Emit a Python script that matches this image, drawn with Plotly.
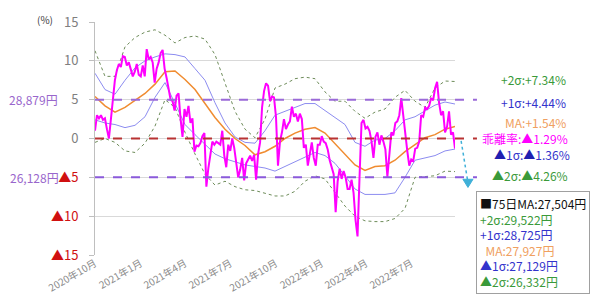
import pandas as pd
import plotly.graph_objects as go

# ---- data ----
dev_start, dev_end = "2020-10-01", "2022-09-27"
deviation = [
    1.0, 3.0, 2.6, 3.0, 2.4, 2.6, 1.2, 0.0, 2.5, 5.5,
    7.5, 8.8, 9.6, 9.2, 10.6, 10.5, 9.4, 9.8, 8.8, 8.0,
    8.6, 9.6, 8.2, 8.0, 9.4, 8.0, 11.5, 10.2, 10.5, 9.8,
    7.2, 9.0, 9.8, 11.0, 11.4, 9.0, 7.8, 6.5, 5.0, 4.8,
    3.6, 5.5, 5.8, 2.6, 0.2, 3.8, 2.8, 4.2, 2.0, 2.6,
    -1.7, -0.9, -1.0, -0.6, 0.3, 0.7, -6.2, -3.8, -2.2, -0.4,
    -0.8, -0.4, -0.6, -0.8, 1.0, -2.2, -3.7, -0.8, -1.6, 0.0,
    -1.2, -2.8, -5.0, -4.0, -2.5, -5.4, -3.2, -2.7, -2.2, -2.9,
    -2.1, -5.3, -2.0, -0.5, 4.0, 6.1, 7.1, 6.8, 4.8, 5.4,
    5.3, 2.8, -3.5, -0.4, 0.8, 2.5, 1.2, 1.8, 2.2, 4.1,
    2.8, 3.2, 2.2, 3.2, 2.5, -1.2, -0.8, -3.5, -2.0, -0.5,
    -2.5, -3.5, -0.8, -0.8, 0.3, -0.4, -0.6, -1.4, -2.8, -3.6,
    -4.6, -9.5, -5.5, -3.9, -5.2, -4.2, -5.0, -6.5, -6.5, -5.3,
    -7.0, -10.5, -12.6, -5.0, 2.0, 2.4, 1.3, 1.5, 1.0, -0.3,
    -2.5, 0.2, 0.8, -0.8, 0.4, -0.4, -1.4, -4.9, -1.5, 0.8,
    0.4, 2.0, 2.2, 3.0, 5.2, 2.8, 0.0, -1.6, -3.5, -2.7,
    -2.9, -1.3, -1.2, -0.4, 3.0, 2.8, 4.0, 3.8, 4.2, 5.2,
    4.9, 6.5, 7.3, 4.6, 3.0, 3.5, 0.8, 1.5, 3.5, 0.5,
    0.8, -1.29,
]
ma = [5.4, 4.2, 3.4, 4.0, 4.9, 5.8, 7.0, 8.6, 8.7, 7.6, 6.3, 4.5, 2.7, 1.2, 0.0, -0.9,
      -2.1, -1.7, -1.0, 0.0, 0.7, 1.2, 1.4, 0.7, -0.7, -2.0, -3.4, -4.1, -3.6, -3.5,
      -2.8, -1.7, -0.8, 0.1, 0.5, 1.2, 1.54]
plus1 = [8.4, 6.3, 5.7, 7.5, 9.1, 10.0, 10.5, 10.9, 10.8, 10.5, 9.0, 7.5, 4.6, 2.0, 0.2,
         -0.5, -0.6, 1.0, 3.0, 3.5, 4.0, 4.5, 4.5, 3.6, 2.8, 1.8, -0.5, -1.0, -0.2, 0.0,
         1.0, 2.4, 2.8, 3.5, 4.3, 4.7, 4.44]
minus1 = [2.4, 2.0, 1.8, 1.4, 1.7, 2.8, 5.3, 7.2, 4.5, 1.8, 0.5, -0.8, -2.0, -2.6, -3.0,
          -3.4, -3.6, -3.8, -4.2, -3.6, -3.0, -2.4, -1.8, -2.2, -3.2, -4.8, -6.5, -7.2,
          -7.2, -7.2, -7.0, -5.0, -2.8, -2.5, -2.2, -1.6, -1.36]
plus2 = [11.3, 8.0, 8.0, 11.8, 13.0, 13.7, 14.0, 13.3, 12.3, 13.0, 13.2, 12.8, 10.8, 7.0,
         3.5, 1.2, 0.1, 2.5, 6.5, 7.0, 7.7, 7.9, 7.7, 6.0, 4.8, 4.8, 3.5, 2.6, 3.4, 3.8,
         5.3, 6.2, 4.8, 4.0, 6.5, 7.4, 7.34]
minus2 = [-0.5, 0.0, -0.5, -1.6, -1.8, -0.6, 1.6, 5.0, 4.0, 0.8, -2.0, -4.6, -6.0, -5.5,
          -6.2, -6.6, -6.7, -7.0, -7.4, -7.4, -6.8, -5.5, -4.8, -5.2, -7.0, -8.7, -10.0,
          -10.6, -10.7, -10.7, -10.3, -9.0, -5.0, -4.9, -4.8, -4.2, -4.26]

xtick_vals = ["2020-10-01", "2021-01-01", "2021-04-01", "2021-07-01",
              "2021-10-01", "2022-01-01", "2022-04-01", "2022-07-01"]
xtick_text = ["2020年10月", "2021年1月", "2021年4月", "2021年7月",
              "2021年10月", "2022年1月", "2022年4月", "2022年7月"]
ytick_vals = [-15, -10, -5, 0, 5, 10, 15]
ytick_text = ["▲15", "▲10", "▲5", "0", "5", "10", "15"]

right_labels = ["+2σ:+7.34%", "+1σ:+4.44%", "MA:+1.54%", "乖離率:▲1.29%", "▲1σ:▲1.36%", "▲2σ:▲4.26%"]
box_title = "■75日MA:27,504円"
box_labels = ["+2σ:29,522円", "+1σ:28,725円", "MA:27,927円", "▲1σ:27,129円", "▲2σ:26,332円"]
price_at_p5 = "28,879円"
price_at_m5 = "26,128円"

# ---- figure ----
dev_dates = pd.date_range(dev_start, dev_end, periods=len(deviation))
band_dates = pd.date_range(dev_start, dev_end, periods=len(ma))

GREEN = "#3A9A3A"
BLUE = "#3333CC"
ORANGE = "#F0A060"
MAG = "#FF00FF"
PURPLE = "#9966CC"
RED = "#D01010"
FONT = "Noto Sans CJK JP"

fig = go.Figure()
fig.add_trace(go.Scatter(x=band_dates, y=plus2, mode="lines",
                         line=dict(color="#6E8C5A", width=1, dash="dot")))
fig.add_trace(go.Scatter(x=band_dates, y=minus2, mode="lines",
                         line=dict(color="#6E8C5A", width=1, dash="dot")))
fig.add_trace(go.Scatter(x=band_dates, y=plus1, mode="lines",
                         line=dict(color="#8C8CF0", width=1)))
fig.add_trace(go.Scatter(x=band_dates, y=minus1, mode="lines",
                         line=dict(color="#8C8CF0", width=1)))
fig.add_trace(go.Scatter(x=band_dates, y=ma, mode="lines",
                         line=dict(color="#F08C30", width=1.5)))
fig.add_trace(go.Scatter(x=dev_dates, y=deviation, mode="lines",
                         line=dict(color=MAG, width=2)))

# dashed reference lines extending beyond the plot area
for yv, col in [(5, "#9A6AD8"), (-5, "#8A5ADA"), (0, "#B83232")]:
    fig.add_shape(type="line", xref="paper", yref="y", x0=0, x1=1.061, y0=yv, y1=yv,
                  line=dict(color=col, width=2, dash="dash"))

# cyan dotted arrow
fig.add_shape(type="line", xref="paper", yref="paper", x0=1.017, y0=0.49, x1=1.036, y1=0.31,
              line=dict(color="#3FB0D8", width=1.5, dash="dot"))
fig.add_shape(type="path", xref="paper", yref="paper",
              path="M 1.022 0.325 L 1.050 0.325 L 1.036 0.29 Z",
              fillcolor="#3FB0D8", line=dict(color="#3FB0D8", width=1))

# right-hand labels
right_specs = [(7.65, GREEN, 1.314), (4.7, BLUE, 1.314), (2.1, ORANGE, 1.314),
               (0.0, MAG, 1.319), (-2.1, BLUE, 1.325), (-4.7, GREEN, 1.319)]
for txt, (yv, col, xp) in zip(right_labels, right_specs):
    if txt.startswith("▲1σ"):
        txt = "<span style='color:#2020B0'>▲</span>1σ:<span style='color:#2020B0'>▲</span>1.36%"
    fig.add_annotation(xref="paper", yref="y", x=xp, y=yv, text=txt, showarrow=False,
                       xanchor="right", yanchor="middle", font=dict(size=12, color=col, family=FONT))

# info box: one bordered multi-line annotation
box_colors = [GREEN, BLUE, ORANGE, BLUE, GREEN]
lines = [f"<span style='color:#111111'>{box_title}</span>"]
for txt, col in zip(box_labels, box_colors):
    pad = "\u00a0\u00a0" if txt.startswith("MA") else ""
    lines.append(f"{pad}<span style='color:{col}'>{txt}</span>")
fig.add_annotation(xref="paper", yref="paper", x=(476 - 95) / 360, y=(260 - 193) / 243,
                   text="<br>".join(lines), showarrow=False, align="left",
                   xanchor="left", yanchor="top",
                   bordercolor="#A0A0A0", borderwidth=1, borderpad=3, bgcolor="white",
                   font=dict(size=12, color="#111111", family=FONT))

# left price labels
fig.add_annotation(xref="paper", yref="y", x=-0.097, y=5, text=price_at_p5, showarrow=False,
                   xanchor="right", yanchor="middle", font=dict(size=12, color=PURPLE, family=FONT))
fig.add_annotation(xref="paper", yref="y", x=-0.094, y=-5, text=price_at_m5, showarrow=False,
                   xanchor="right", yanchor="middle", font=dict(size=12, color=PURPLE, family=FONT))
fig.add_annotation(xref="paper", yref="paper", x=-0.14, y=1.01, text="(%)", showarrow=False,
                   xanchor="center", yanchor="middle", font=dict(size=10, color="#404040", family=FONT))

ytext_styled = [f"<span style='color:{RED}'>{t}</span>" if t.startswith("▲") else t
                for t in ytick_text]

fig.update_layout(
    width=600, height=307,
    margin=dict(l=95, r=145, t=17, b=47),
    paper_bgcolor="white", plot_bgcolor="white",
    showlegend=False,
    font=dict(family=FONT, color="#7F7F7F"),
    xaxis=dict(type="date", range=["2020-10-01", "2022-09-27"],
               tickvals=xtick_vals, ticktext=xtick_text, tickangle=-30,
               showgrid=False, showline=False, zeroline=False, ticks="",
               tickfont=dict(size=10, color="#8C8C8C", family=FONT)),
    yaxis=dict(range=[-15, 15], tickvals=ytick_vals, ticktext=ytext_styled,
               showgrid=True, gridcolor="#D9D9D9", gridwidth=1, zeroline=False,
               showline=True, linecolor="#BFBFBF", linewidth=1,
               ticks="outside", ticklen=5, tickcolor="#BFBFBF",
               ticklabelstandoff=8,
               tickfont=dict(size=13, color="#7F7F7F", family=FONT)),
)

fig.write_html("out.html")
